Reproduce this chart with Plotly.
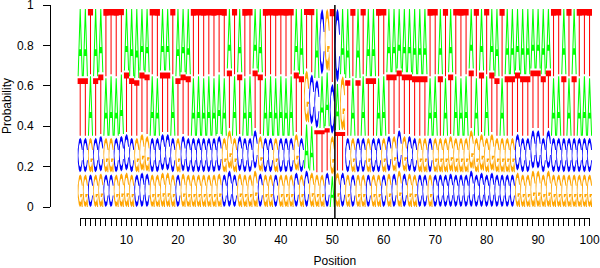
import numpy as np
import plotly.graph_objects as go

# ---------------- data (per-position letter probabilities) ----------------
positions = list(range(1, 101))
prob_A = [0.35, 0.35, 0.31, 0.35, 0.33, 0.30, 0.31, 0.30, 0.31, 0.32,
          0.35, 0.36, 0.32, 0.33, 0.31, 0.30, 0.32, 0.32, 0.31, 0.35,
          0.33, 0.34, 0.30, 0.31, 0.30, 0.31, 0.30, 0.31, 0.30, 0.31,
          0.31, 0.33, 0.30, 0.31, 0.31, 0.33, 0.30, 0.31, 0.30, 0.31,
          0.30, 0.31, 0.32, 0.34, 0.23, 0.23, 0.36, 0.27, 0.28, 0.16,
          0.24, 0.34, 0.36, 0.30, 0.36, 0.31, 0.35, 0.35, 0.30, 0.31,
          0.33, 0.33, 0.31, 0.33, 0.33, 0.34, 0.34, 0.34, 0.30, 0.31,
          0.34, 0.30, 0.33, 0.31, 0.30, 0.31, 0.31, 0.30, 0.32, 0.31,
          0.32, 0.35, 0.30, 0.34, 0.34, 0.32, 0.34, 0.34, 0.31, 0.31,
          0.34, 0.31, 0.30, 0.31, 0.34, 0.30, 0.34, 0.30, 0.31, 0.30]
prob_C = [0.18, 0.18, 0.17, 0.18, 0.185, 0.17, 0.17, 0.18, 0.185, 0.19,
          0.18, 0.17, 0.18, 0.175, 0.18, 0.18, 0.19, 0.19, 0.18, 0.17,
          0.185, 0.18, 0.18, 0.18, 0.18, 0.18, 0.18, 0.185, 0.17, 0.19,
          0.17, 0.185, 0.18, 0.18, 0.20, 0.175, 0.18, 0.18, 0.17, 0.18,
          0.18, 0.18, 0.18, 0.18, 0.19, 0.26, 0.25, 0.34, 0.18, 0.26,
          0.38, 0.18, 0.18, 0.17, 0.18, 0.18, 0.17, 0.18, 0.18, 0.17,
          0.185, 0.175, 0.20, 0.175, 0.185, 0.18, 0.17, 0.17, 0.18, 0.17,
          0.17, 0.17, 0.175, 0.17, 0.17, 0.17, 0.19, 0.17, 0.18, 0.17,
          0.18, 0.17, 0.17, 0.17, 0.17, 0.19, 0.18, 0.18, 0.20, 0.20,
          0.18, 0.20, 0.18, 0.18, 0.18, 0.18, 0.18, 0.18, 0.18, 0.18]
prob_G = [0.17, 0.17, 0.18, 0.17, 0.175, 0.18, 0.18, 0.17, 0.175, 0.18,
          0.17, 0.18, 0.19, 0.185, 0.17, 0.17, 0.18, 0.18, 0.17, 0.18,
          0.175, 0.17, 0.17, 0.17, 0.17, 0.17, 0.17, 0.175, 0.18, 0.20,
          0.18, 0.175, 0.17, 0.17, 0.19, 0.185, 0.17, 0.17, 0.18, 0.17,
          0.17, 0.17, 0.19, 0.17, 0.27, 0.18, 0.17, 0.17, 0.32, 0.20,
          0.18, 0.28, 0.17, 0.18, 0.17, 0.17, 0.18, 0.17, 0.17, 0.18,
          0.175, 0.185, 0.19, 0.185, 0.175, 0.17, 0.18, 0.18, 0.17, 0.18,
          0.18, 0.18, 0.185, 0.18, 0.18, 0.18, 0.20, 0.18, 0.19, 0.18,
          0.19, 0.18, 0.18, 0.18, 0.18, 0.18, 0.17, 0.17, 0.19, 0.19,
          0.17, 0.19, 0.17, 0.17, 0.17, 0.17, 0.17, 0.17, 0.17, 0.17]
prob_T = [0.30, 0.30, 0.34, 0.30, 0.31, 0.35, 0.34, 0.35, 0.33, 0.31,
          0.30, 0.29, 0.31, 0.31, 0.34, 0.35, 0.31, 0.31, 0.34, 0.30,
          0.31, 0.31, 0.35, 0.34, 0.35, 0.34, 0.35, 0.33, 0.35, 0.30,
          0.34, 0.31, 0.35, 0.34, 0.30, 0.31, 0.35, 0.34, 0.35, 0.34,
          0.35, 0.34, 0.31, 0.31, 0.31, 0.33, 0.22, 0.22, 0.22, 0.38,
          0.20, 0.20, 0.29, 0.35, 0.29, 0.34, 0.30, 0.30, 0.35, 0.34,
          0.31, 0.31, 0.30, 0.31, 0.31, 0.31, 0.31, 0.31, 0.35, 0.34,
          0.31, 0.35, 0.31, 0.34, 0.35, 0.34, 0.30, 0.35, 0.31, 0.34,
          0.31, 0.30, 0.35, 0.31, 0.31, 0.31, 0.31, 0.31, 0.30, 0.30,
          0.31, 0.30, 0.35, 0.34, 0.31, 0.35, 0.31, 0.35, 0.34, 0.35]
x_tick_labels = [str(p) if p % 10 == 0 else "" for p in positions]
y_tick_values = [0, 0.2, 0.4, 0.6, 0.8, 1]
y_tick_labels = ["0", "0.2", "0.4", "0.6", "0.8", "1"]
boundary_position = 50.5

# ---------------- letter glyphs (unit box, seqLogo style) ----------------
def glyph_C(n=40):
    a1 = np.linspace(0.3 + np.pi / 2, np.pi, n)
    a2 = np.linspace(np.pi, 1.5 * np.pi, n)
    xl = np.concatenate([0.5 + 0.5 * np.sin(a1), 0.5 + 0.5 * np.sin(a2)])
    yl = np.concatenate([0.5 + 0.5 * np.cos(a1), 0.5 + 0.5 * np.cos(a2)])
    x = np.concatenate([xl, xl[::-1]])
    y = np.concatenate([yl, 1 - yl[::-1]])
    ymax = (0.5 + 0.5 * np.cos(a1)).max()
    xi1 = 0.5 + 0.35 * np.sin(a1)
    yi1 = 0.5 + 0.35 * np.cos(a1)
    keep = yi1 <= ymax
    xi1 = xi1[keep]
    yi1 = yi1[keep].copy()
    yi1[0] = ymax
    xi2 = 0.5 + 0.35 * np.sin(a2)
    yi2 = 0.5 + 0.35 * np.cos(a2)
    xi = np.concatenate([xi1, xi2])
    yi = np.concatenate([yi1, yi2])
    x1 = np.concatenate([xi, xi[::-1]])
    y1 = np.concatenate([yi, 1 - yi[::-1]])
    return np.concatenate([x, x1[::-1]]), np.concatenate([y, y1[::-1]])

cx, cy = glyph_C()
r1 = 0.5 + 0.5 * np.cos(0.3)
GLYPHS = {
    "A": [(np.array([0, .4, .6, 1, .8, .68, .32, .2, 0]),
           np.array([0, 1, 1, 0, 0, .3, .3, 0, 0]))],
    "C": [(cx, cy)],
    "G": [(cx, cy),
          (np.array([r1, .5, .5, r1 - .2, r1 - .2, r1, r1]),
           np.array([.4, .4, .3, .3, 0, 0, .4]))],
    "T": [(np.array([0, 1, 1, .6, .6, .4, .4, 0]),
           np.array([1, 1, .9, .9, 0, 0, .9, .9]))],
}
HOLE_A = (np.array([.36, .5, .64, .36]), np.array([.4, .75, .4, .4]))
COLORS = {"A": "#00FF00", "C": "#0000FF", "G": "#FFA500", "T": "#FF0000"}

paths = {k: ([], []) for k in ["A", "C", "G", "T", "hole"]}

def add_poly(key, px, py, x0, y0, h):
    xs, ys = paths[key]
    xs.extend(list(x0 + px) + [None])
    ys.extend(list(y0 + h * py) + [None])

letters = ["A", "C", "G", "T"]
for i, p in enumerate(positions):
    probs = [prob_A[i], prob_C[i], prob_G[i], prob_T[i]]
    hts = [0.95 * v for v in probs]
    order = sorted(range(4), key=lambda k: hts[k])
    ypos = 0.0
    x0 = p - 0.5
    for k in order:
        L = letters[k]
        h = hts[k]
        if h > 0:
            for gx, gy in GLYPHS[L]:
                add_poly(L, gx, gy, x0, ypos, h)
            if L == "A":
                add_poly("hole", HOLE_A[0], HOLE_A[1], x0, ypos, h)
        ypos += h + 0.01

fig = go.Figure()
for key, col in [("A", COLORS["A"]), ("hole", "#FFFFFF"), ("C", COLORS["C"]),
                 ("G", COLORS["G"]), ("T", COLORS["T"])]:
    xs, ys = paths[key]
    fig.add_trace(go.Scatter(x=xs, y=ys, mode="lines", fill="toself",
                             fillcolor=col, line=dict(width=0, color=col),
                             hoverinfo="skip", showlegend=False))

# invisible trace to carry the display axes
fig.add_trace(go.Scatter(x=[positions[0], positions[-1]], y=[0, 1],
                         xaxis="x2", yaxis="y2", mode="markers",
                         marker=dict(opacity=0), hoverinfo="skip",
                         showlegend=False))

# ---------------- geometry ----------------
W, H = 600, 268
ml, mr, mt, mb = 50, 8, 5, 50
plot_w = W - ml - mr
plot_h = H - mt - mb
px_per_pos = 5.145
px_first = 80.2  # pixel of position 1
x_left_val = 1 - (px_first - ml) / px_per_pos
x_right_val = x_left_val + plot_w / px_per_pos
px_per_unit = 202.0
y_bottom_val = 1 - plot_h / px_per_unit

dom_x0 = (px_first - ml) / plot_w
dom_x1 = (px_first + (positions[-1] - positions[0]) * px_per_pos - ml) / plot_w
dom_y0 = (-y_bottom_val) * px_per_unit / plot_h

font = dict(family="Liberation Sans, Arial, sans-serif", size=12, color="black")

fig.update_layout(
    template="none",
    width=W, height=H,
    margin=dict(l=ml, r=mr, t=mt, b=mb, pad=0, autoexpand=False),
    paper_bgcolor="white", plot_bgcolor="rgba(0,0,0,0)",
    font=font,
    showlegend=False,
    xaxis=dict(range=[x_left_val, x_right_val], visible=False, domain=[0, 1]),
    yaxis=dict(range=[y_bottom_val, 1], visible=False, domain=[0, 1]),
    xaxis2=dict(range=[positions[0], positions[-1]], domain=[dom_x0, min(dom_x1, 1)],
                anchor="free", position=0, showline=True, linecolor="black",
                linewidth=1, ticks="outside", ticklen=7, tickwidth=1,
                tickcolor="black", tickvals=positions, ticktext=x_tick_labels,
                tickangle=0, ticklabelstandoff=4, ticklabeloverflow="allow",
                showgrid=False, zeroline=False, tickfont=font,
                title=dict(text="Position", font=font, standoff=15)),
    yaxis2=dict(range=[0, 1], domain=[dom_y0, 1], anchor="free", position=0,
                showline=True, linecolor="black", linewidth=1,
                ticks="outside", ticklen=7, tickwidth=1, tickcolor="black",
                tickvals=y_tick_values, ticktext=y_tick_labels,
                ticklabelstandoff=7, ticklabeloverflow="allow",
                showgrid=False, zeroline=False, tickfont=font,
                title=dict(text="Probability", font=font, standoff=3)),
)

fig.add_vline(x=boundary_position, line=dict(color="black", width=1.5))

fig.write_html("out.html", config={"displayModeBar": False},
               post_script="document.body.style.margin='0px';")
